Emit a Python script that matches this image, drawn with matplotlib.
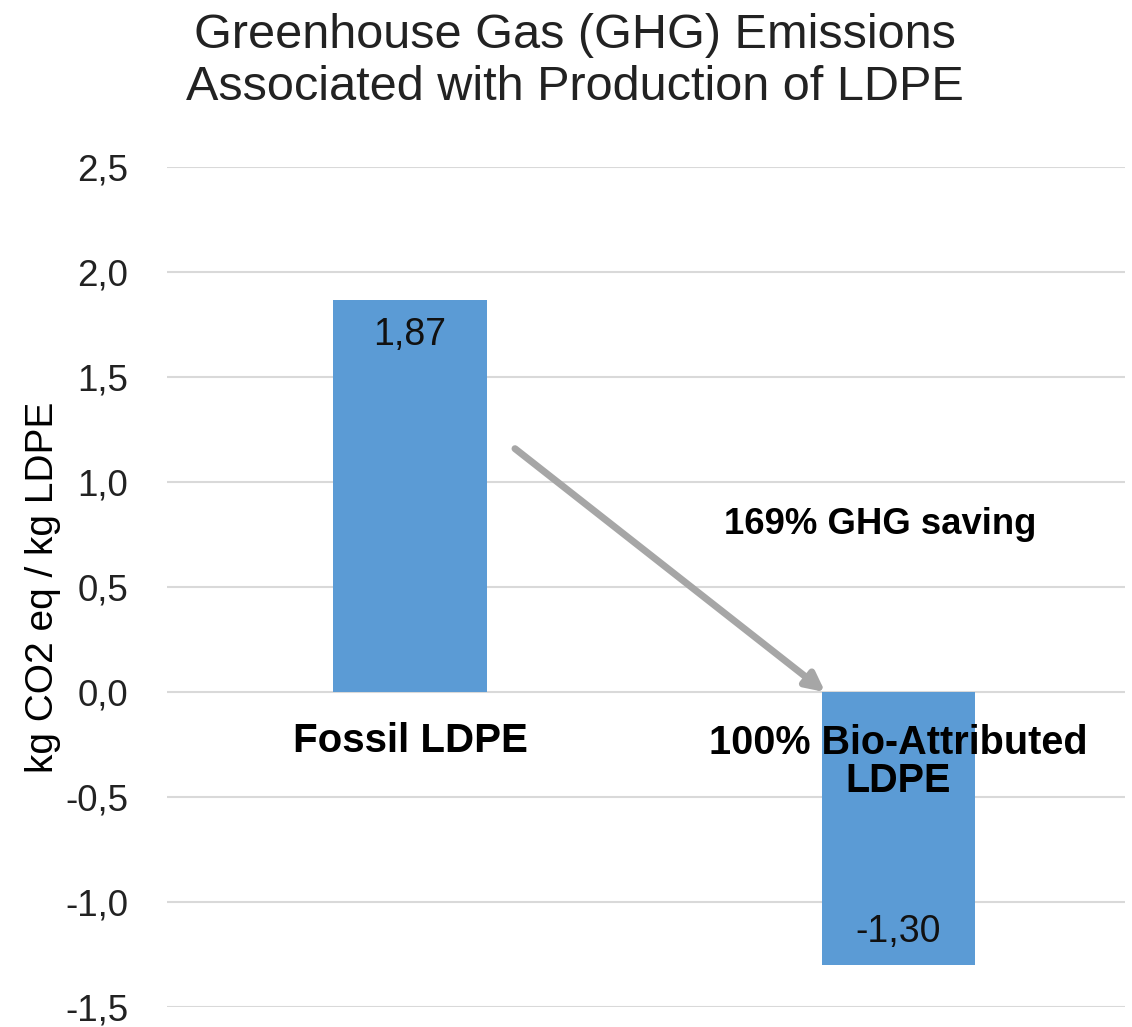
import matplotlib
matplotlib.use("Agg")
import matplotlib.pyplot as plt

categories = ["Fossil LDPE", "100% Bio-Attributed\nLDPE"]
values = [1.87, -1.30]
value_labels = ["1,87", "-1,30"]
yticks = [-1.5, -1.0, -0.5, 0.0, 0.5, 1.0, 1.5, 2.0, 2.5]
ytick_labels = ["-1,5", "-1,0", "-0,5", "0,0", "0,5", "1,0", "1,5", "2,0", "2,5"]
title = "Greenhouse Gas (GHG) Emissions\nAssociated with Production of LDPE"
ylabel = "kg CO2 eq / kg LDPE"
saving_text = "169% GHG saving"

plt.rcParams['font.family'] = ['Liberation Sans', 'DejaVu Sans']

fig = plt.figure(figsize=(11.32, 10.27), dpi=100)
ax = fig.add_axes([0.1475, 0.0195, 0.8463, 0.8175])

x = list(range(len(categories)))
bars = ax.bar(x, values, width=0.315, color="#5B9BD5", zorder=2)

ax.set_xlim(-0.4974, 1.4637)
ax.set_ylim(-1.5, 2.5)
ax.set_yticks(yticks)
ax.set_yticklabels(ytick_labels, fontsize=26.5, color="#222222")
ax.set_xticks([])
ax.tick_params(axis='y', length=0, pad=28)
ax.grid(axis='y', color="#D9D9D9", linewidth=1.5, zorder=0)
for s in ax.spines.values():
    s.set_visible(False)

# value labels inside bars
ax.text(x[0], values[0] - 0.17, value_labels[0], ha='center', va='center', fontsize=27, color="#111111", zorder=3)
ax.text(x[1], values[1] + 0.155, value_labels[1], ha='center', va='center', fontsize=27, color="#111111", zorder=3)

# category labels
ax.text(x[0], -0.235, categories[0], ha='center', va='center', fontsize=29, fontweight='bold', zorder=3)
ax.text(x[1], -0.335, categories[1], ha='center', va='center', fontsize=28.5, fontweight='bold',
        linespacing=1.0, zorder=3)

# arrow
ax.annotate("", xy=(0.85, 0.0), xytext=(0.215, 1.16),
            arrowprops=dict(arrowstyle="-|>,head_length=1.1,head_width=0.55", color="#A6A6A6", lw=5,
                            shrinkA=0, shrinkB=0), zorder=4)

ax.text(0.962, 0.80, saving_text, ha='center', va='center', fontsize=26.3, fontweight='bold', zorder=3)

ax.set_ylabel(ylabel, fontsize=28, labelpad=3)

fig.text(0.508, 0.9405, title, ha='center', va='center', fontsize=35, linespacing=1.2, color="#222222")

fig.savefig("out.png", dpi=100)
